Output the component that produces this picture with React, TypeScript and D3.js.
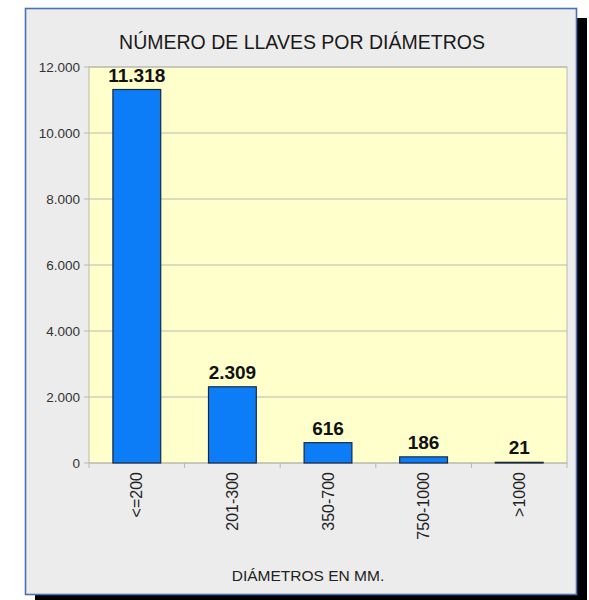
import React from "react";
import * as d3 from "d3";

const categories = ["<=200", "201-300", "350-700", "750-1000", ">1000"];
const values = [11318, 2309, 616, 186, 21];
const valueLabels = ["11.318", "2.309", "616", "186", "21"];
const yTicks = [0, 2000, 4000, 6000, 8000, 10000, 12000];
const yTickLabels = ["0", "2.000", "4.000", "6.000", "8.000", "10.000", "12.000"];
const title = "NÚMERO DE LLAVES POR DIÁMETROS";
const xTitle = "DIÁMETROS EN MM.";

export default function App() {
  const W = 589, H = 600;
  const left = 89, right = 567, top = 67, bottom = 463;
  const x = d3.scaleBand<string>().domain(categories).range([left, right]).paddingInner(0.5).paddingOuter(0.25);
  const xb = d3.scaleBand<string>().domain(categories).range([left, right]);
  const y = d3.scaleLinear().domain([0, 12000]).range([bottom, top]);
  const font = "'Liberation Sans', Arial, sans-serif";
  const boundaries = [...categories.map((c) => xb(c)!), right];
  return (
    <svg width={W} height={H} style={{ position: "absolute", left: 0, top: 0 }} fontFamily={font}>
      <rect x={35} y={18} width={552} height={590} fill="#000" />
      <rect x={25.5} y={8.5} width={551} height={586} fill="#ececec" stroke="#4a72b0" strokeWidth={1.6} />
      <text x={302} y={49} textAnchor="middle" fontSize={19.5} fill="#1a1a1a">{title}</text>
      <rect x={left} y={top} width={right - left} height={bottom - top} fill="#ffffcc" stroke="#b8b8b0" strokeWidth={1} />
      {yTicks.map((t, i) => (
        <g key={t}>
          <line x1={left} x2={right} y1={y(t)} y2={y(t)} stroke="#b8b8b0" strokeWidth={1} />
          <line x1={left - 5} x2={left} y1={y(t)} y2={y(t)} stroke="#b8b8b0" strokeWidth={1} />
          <text x={80} y={y(t)} dy="0.35em" textAnchor="end" fontSize={13.5} fill="#333">{yTickLabels[i]}</text>
        </g>
      ))}
      {boundaries.map((b, i) => (
        <line key={i} x1={b} x2={b} y1={bottom} y2={bottom + 5} stroke="#b8b8b0" strokeWidth={1} />
      ))}
      {categories.map((c, i) => (
        <g key={c}>
          <rect x={x(c)!} y={y(values[i])} width={x.bandwidth()} height={bottom - y(values[i])}
            fill="#0d7df7" stroke="#1a2940" strokeWidth={1.2} />
          <text x={x(c)! + x.bandwidth() / 2} y={y(values[i]) - 8} textAnchor="middle" fontSize={19} fontWeight="bold" fill="#111">{valueLabels[i]}</text>
          <text transform={`translate(${xb(c)! + xb.bandwidth() / 2},472) rotate(-90)`} textAnchor="end" dy="0.35em" fontSize={16} fill="#222">{c}</text>
        </g>
      ))}
      <text x={308} y={581} textAnchor="middle" fontSize={15.5} fill="#222">{xTitle}</text>
    </svg>
  );
}
